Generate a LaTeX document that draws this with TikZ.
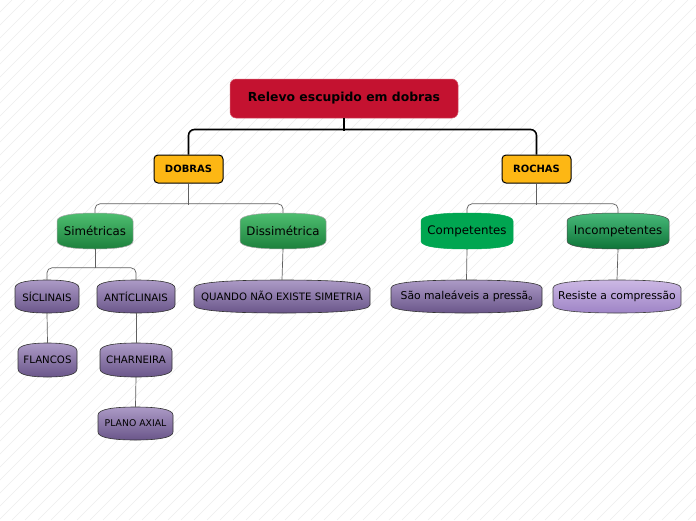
\documentclass[tikz,border=0pt]{standalone}
\usepackage{fontspec}
\setmainfont{DejaVu Sans}
\usetikzlibrary{calc}
\definecolor{rootred}{RGB}{196,18,48}
\definecolor{gold}{RGB}{253,183,20}
\definecolor{gtop}{RGB}{78,190,112}
\definecolor{gbot}{RGB}{28,128,60}
\definecolor{compgreen}{RGB}{0,166,81}
\definecolor{itop}{RGB}{72,186,122}
\definecolor{ibot}{RGB}{14,116,56}
\definecolor{ptop}{RGB}{172,154,198}
\definecolor{pbot}{RGB}{106,86,138}
\definecolor{ltop}{RGB}{204,184,228}
\definecolor{lbot}{RGB}{158,132,198}
\tikzset{
  hatch/.style={draw=gray!14, line width=0.6pt},
  mainline/.style={draw=black, line width=1.6pt, rounded corners=6pt},
  mainstub/.style={draw=black, line width=1.6pt},
  subline/.style={draw=gray!75!black, line width=0.7pt, rounded corners=5pt},
  rootbox/.style={rectangle, rounded corners=6pt, fill=rootred, draw=rootred!70, line width=0.5pt,
    font=\bfseries\fontsize{12.4}{14}\selectfont, text=black, inner sep=0pt},
  catbox/.style={rectangle, rounded corners=4pt, fill=gold, draw=black, line width=1pt,
    font=\bfseries\fontsize{10}{12}\selectfont, text=black, inner sep=0pt},
  greenshape/.style={top color=gtop, bottom color=gbot, draw=gray!70, line width=0.5pt},
  compshape/.style={fill=compgreen, draw=compgreen, line width=0.5pt},
  incshape/.style={top color=itop, bottom color=ibot, draw=gray!60!black, line width=0.5pt},
  purpleshape/.style={top color=ptop, bottom color=pbot, draw=gray!40!black, line width=0.6pt},
  lilacshape/.style={top color=ltop, bottom color=lbot, draw=gray!50!black, line width=0.6pt},
  greentext/.style={font=\fontsize{11.8}{14}\selectfont, text=black},
  purpletext/.style={font=\fontsize{10.2}{12}\selectfont, text=black},
  smalltext/.style={font=\fontsize{9.3}{11}\selectfont, text=black},
  midtext/.style={font=\fontsize{10.8}{13}\selectfont, text=black},
}
% name, x1, y1, x2, y2, shape style, text style, text
\newcommand\barrelnode[8]{%
  \path[#6] (#2,#3+8) -- (#2,#5-8)
    .. controls (#2,#5-2) and ({#2+(#4-#2)*0.22},#5) .. ({(#2+#4)/2},#5)
    .. controls ({#4-(#4-#2)*0.22},#5) and (#4,#5-2) .. (#4,#5-8)
    -- (#4,#3+8)
    .. controls (#4,#3+2) and ({#4-(#4-#2)*0.22},#3) .. ({(#2+#4)/2},#3)
    .. controls ({#2+(#4-#2)*0.22},#3) and (#2,#3+2) .. (#2,#3+8) -- cycle;
  \node[#7, inner sep=0pt, minimum width={(#4-#2)*1pt}, minimum height={(#5-#3)*1pt}]
    (#1) at ({(#2+#4)/2},{(#3+#5)/2}) {#8};
}
\begin{document}
\begin{tikzpicture}[x=1pt,y=-1pt]
\useasboundingbox (0,0) rectangle (696,520);
\fill[white] (0,0) rectangle (696,520);
\begin{scope}
  \clip (0,0) rectangle (696,520);
  \foreach \i in {-560,-547,...,700} \draw[hatch] (\i,520) -- (\i+520,0);
\end{scope}

% root and categories
\node[rootbox, minimum width=228pt, minimum height=39pt] (root) at (344,98.5) {Relevo escupido em dobras};
\node[catbox, minimum width=69pt, minimum height=28pt] (dobras) at (188.5,169) {DOBRAS};
\node[catbox, minimum width=69pt, minimum height=28pt] (rochas) at (536.5,169) {ROCHAS};

% level 2
\barrelnode{sim}{57}{213}{133}{249}{greenshape}{greentext}{Simétricas}
\barrelnode{dis}{240}{213}{326}{249}{greenshape}{greentext}{Dissimétrica}
\barrelnode{comp}{421}{213}{513}{249}{compshape}{greentext}{Competentes}
\barrelnode{inc}{567}{213}{669}{249}{incshape}{greentext}{Incompetentes}

% level 3
\barrelnode{sic}{15}{280}{79}{313}{purpleshape}{purpletext}{SÍCLINAIS}
\barrelnode{ant}{97}{280}{175}{313}{purpleshape}{purpletext}{ANTÍCLINAIS}
\barrelnode{quando}{194}{280}{370}{313}{purpleshape}{purpletext}{QUANDO NÃO EXISTE SIMETRIA}
\barrelnode{sao}{391}{280}{542}{313}{purpleshape}{midtext}{São maleáveis a pressã{\raisebox{-0.5pt}{\fontsize{6.5}{7}\selectfont o}}}
\barrelnode{res}{553}{280}{681}{313}{lilacshape}{midtext}{Resiste a compressão}

% level 4
\barrelnode{fla}{18}{343}{77}{377}{purpleshape}{purpletext}{FLANCOS}
\barrelnode{cha}{100}{343}{172}{377}{purpleshape}{purpletext}{CHARNEIRA}
\barrelnode{pla}{98}{407}{173}{440}{purpleshape}{smalltext}{PLANO AXIAL}

% connectors
\draw[mainstub] (root.south) -- ++(0,12.8);
\draw[mainline] (dobras.north) -- ++(0,-25) -| (rochas.north);
\draw[subline] (dobras.south) -- ++(0,21);
\draw[subline] (sim.north) -- ++(0,-9) -| (dis.north);
\draw[subline] (rochas.south) -- ++(0,21);
\draw[subline] (comp.north) -- ++(0,-9) -| (inc.north);
\draw[subline] (sim.south) -- ++(0,19);
\draw[subline] (sic.north) -- ++(0,-12) -| (ant.north);
\draw[subline] (dis.south) -- (quando.north);
\draw[subline] (comp.south) -- (sao.north);
\draw[subline] (inc.south) -- (res.north);
\draw[subline] (sic.south) -- (fla.north);
\draw[subline] (ant.south) -- (cha.north);
\draw[subline] (cha.south) -- (pla.north);
\end{tikzpicture}
\end{document}
